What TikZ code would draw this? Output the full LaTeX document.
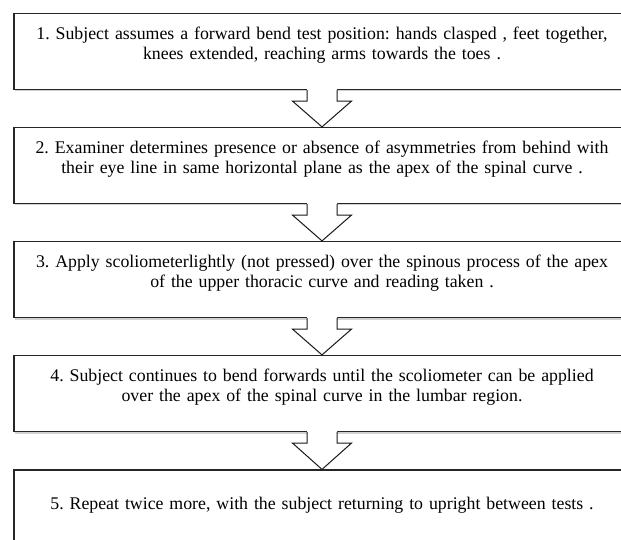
\documentclass[tikz,border=0pt]{standalone}
\usepackage{fontspec}
\setmainfont{Liberation Serif}
\usetikzlibrary{calc,shadows}
\newcommand\flowarrow[2]{%
  \fill[white] ($(#1.south)+(-15,-1)$) -- ($(#1.south)+(-15,11)$) -- ($(#1.south)+(-29.5,11)$) -- (#2.north) -- ($(#1.south)+(29.5,11)$) -- ($(#1.south)+(15,11)$) -- ($(#1.south)+(15,-1)$) -- cycle;
  \draw[arrowline] ($(#1.south)+(-15,0)$) -- ($(#1.south)+(-15,11)$) -- ($(#1.south)+(-29.5,11)$) -- (#2.north) -- ($(#1.south)+(29.5,11)$) -- ($(#1.south)+(15,11)$) -- ($(#1.south)+(15,0)$);
}
\begin{document}
\frenchspacing
\begin{tikzpicture}[x=1pt,y=-1pt,
  stepbox/.style={draw=black!85, line width=1.2pt, fill=white,
    minimum width=616pt, minimum height=76pt, inner sep=0pt,
    drop shadow={shadow xshift=1.2pt, shadow yshift=-2pt, opacity=0.18, fill=black, draw=none}},
  steptext/.style={text width=610pt, align=center, inner sep=0pt,
    font=\fontsize{17.8}{20}\selectfont},
  arrowline/.style={draw=black!90, line width=1pt, line join=miter}]
\useasboundingbox (0,0) rectangle (621,540);
\clip (0,0) rectangle (621,540);
\fill[white] (0,0) rectangle (621,540);
\node[stepbox] (b1) at (322,51.5) {};
\node[stepbox] (b2) at (322,165.5) {};
\node[stepbox] (b3) at (322,279.5) {};
\node[stepbox] (b4) at (322,393.5) {};
\node[stepbox] (b5) at (322,508) {};
\node[steptext] (t1) at ($(b1)+(0,-6)$) {1. Subject assumes a forward bend test position: hands clasped , feet together,\\ knees extended, reaching arms towards the toes .};
\node[steptext] (t2) at ($(b2)+(0,-6)$) {2. Examiner determines presence or absence of asymmetries from behind with\\ their eye line in same horizontal plane as the apex of the spinal curve .};
\node[steptext] (t3) at ($(b3)+(0,-6)$) {3. Apply scoliometerlightly (not pressed) over the spinous process of the apex\\ of the upper thoracic curve and reading taken .};
\node[steptext] (t4) at ($(b4)+(0,-6)$) {4. Subject continues to bend forwards until the scoliometer can be applied\\ over the apex of the spinal curve in the lumbar region.};
\node[steptext] (t5) at ($(b5)+(0,-3)$) {5. Repeat twice more, with the subject returning to upright between tests .};
\flowarrow{b1}{b2}
\flowarrow{b2}{b3}
\flowarrow{b3}{b4}
\flowarrow{b4}{b5}
\end{tikzpicture}
\end{document}
